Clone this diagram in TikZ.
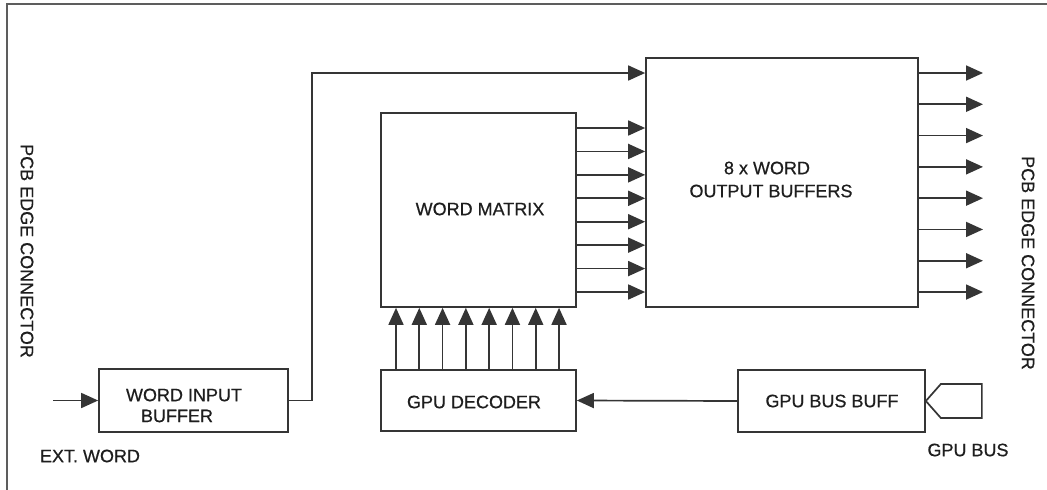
\documentclass[tikz,border=0pt]{standalone}
\usepackage{fontspec}
\setmainfont{Liberation Sans}
\newfontfamily\lblfont{Liberation Sans}[FakeBold=0.6]
\usetikzlibrary{arrows.meta}
\definecolor{ln}{HTML}{353535}
\definecolor{tx}{HTML}{1E1E1E}
\begin{document}
\begin{tikzpicture}[x=1pt,y=-1pt,
  box/.style={draw=ln, line width=1.7pt, fill=white, inner sep=0pt},
  lbl/.style={text=tx, font=\lblfont\fontsize{18}{21}\selectfont, inner sep=0pt},
  wire/.style={draw=ln, line width=1.7pt},
  arr/.style={wire, -{Triangle[length=17pt,width=15pt]}}]
\useasboundingbox (0,0) rectangle (1047,490);
\fill[white] (0,0) rectangle (1047,490);
% frame
\draw[draw=ln!80, line width=2.2pt] (7,492) -- (7,4) -- (1049,4);
% boxes
\node[box, minimum width=189pt, minimum height=63pt] (wib) at (193.5,400.5) {};
\node[box, minimum width=195pt, minimum height=194pt] (wm) at (478.5,210) {};
\node[box, minimum width=272pt, minimum height=249pt] (ob) at (782,182.5) {};
\node[box, minimum width=195pt, minimum height=61pt] (dec) at (478.5,400.5) {};
\node[box, minimum width=187pt, minimum height=62pt] (gbb) at (831.5,401) {};
% labels
\node[lbl] (t1) at (184,395) {WORD INPUT};
\node[lbl] (t2) at (177,416) {BUFFER};
\node[lbl] (t3) at (90,456) {EXT. WORD};
\node[lbl] (t4) at (480,209) {WORD MATRIX};
\node[lbl] (t5) at (767,168) {8 x WORD};
\node[lbl] (t6) at (771,191) {OUTPUT BUFFERS};
\node[lbl] (t7) at (474,402) {GPU DECODER};
\node[lbl] (t8) at (832,401) {GPU BUS BUFF};
\node[lbl] (t9) at (968,450) {GPU BUS};
\node[lbl, rotate=-90] (pl) at (27,251) {PCB EDGE CONNECTOR};
\node[lbl, rotate=-90] (pr) at (1028,263) {PCB EDGE CONNECTOR};
% connectors
\coordinate (ein) at (53,400.5);
\draw[arr] (ein) -- (wib.west);
\coordinate (c1) at (312,73);
\draw[arr] (wib.east) -- (wib.east -| c1) -- (c1) -- (c1 -| ob.west);
\foreach \i in {0,...,7} {
  \pgfmathsetmacro{\yy}{128+\i*23.43}
  \coordinate (m\i) at (600,\yy);
  \draw[arr] (wm.east |- m\i) -- (ob.west |- m\i);
  \pgfmathsetmacro{\yo}{73+\i*31.29}
  \coordinate (o\i) at (983,\yo);
  \draw[arr] (ob.east |- o\i) -- (o\i);
  \pgfmathsetmacro{\xx}{396+\i*23.29}
  \coordinate (v\i) at (\xx,340);
  \draw[arr] (dec.north -| v\i) -- (wm.south -| v\i);
}
\draw[arr] (gbb.west) -- (dec.east);
% bus connector shape
\draw[wire, line join=miter] (gbb.east) -- ++(15,-17) -- ++(41,0) -- ++(0,34) -- ++(-41,0) -- cycle;
\end{tikzpicture}
\end{document}
